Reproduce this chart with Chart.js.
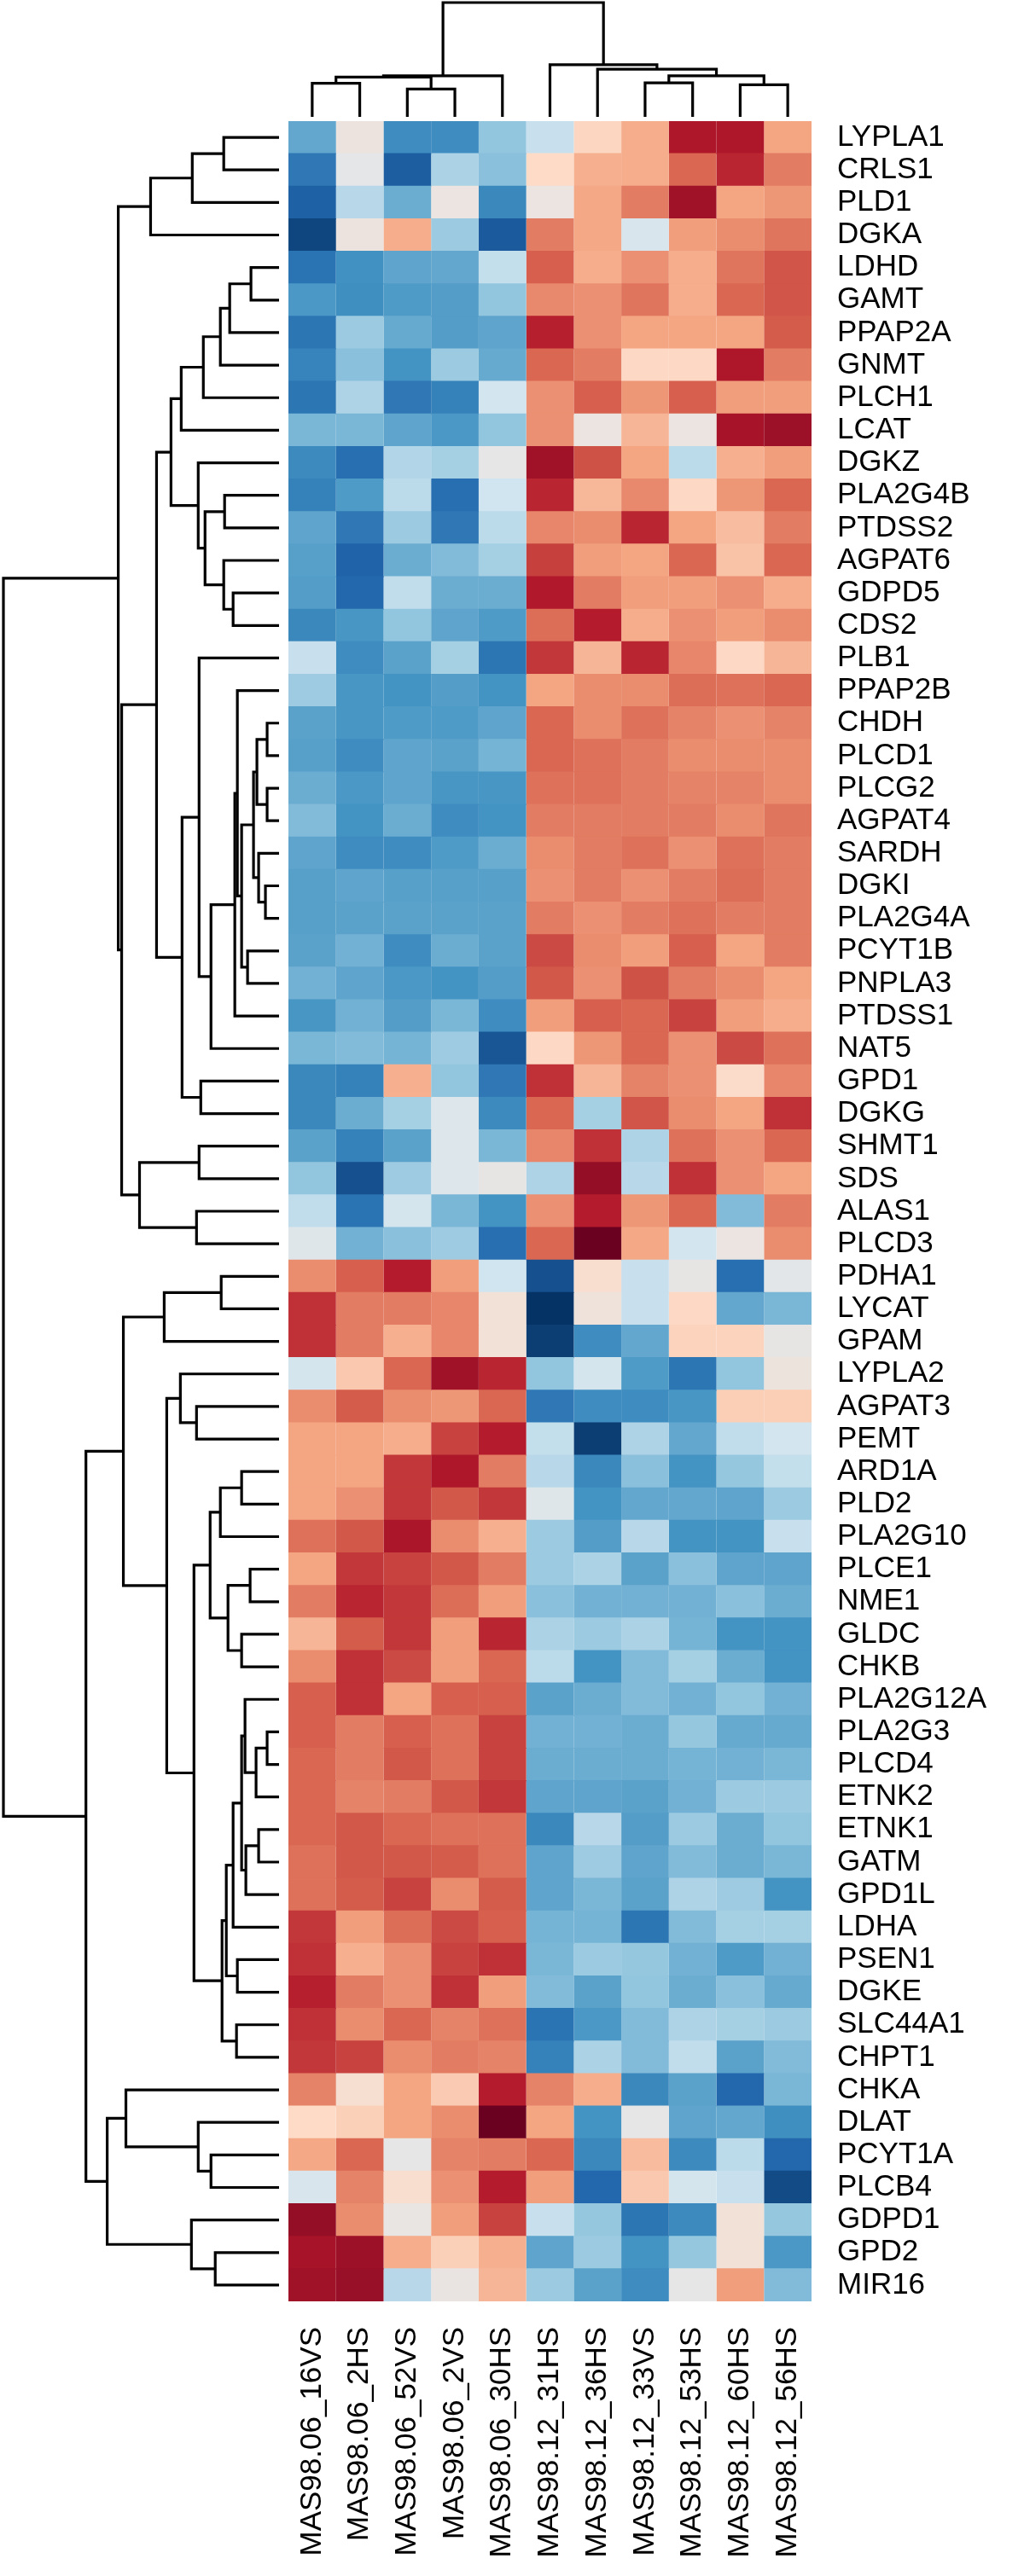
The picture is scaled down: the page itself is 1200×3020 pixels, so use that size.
<!DOCTYPE html>
<html>
<head>
<meta charset="utf-8">
<script src="https://cdn.jsdelivr.net/npm/chart.js@4/dist/chart.umd.min.js"></script>
<style>
  body { margin: 0; background: #fff; width: 1200px; height: 3020px; position: relative; overflow: hidden; }
  canvas { position: absolute; }
</style>
</head>
<body>
<canvas id="colTree" width="613" height="142" style="left:338px;top:0px"></canvas>
<canvas id="rowTree" width="338" height="2556" style="left:0px;top:142px"></canvas>
<canvas id="heat" width="862" height="2878" style="left:338px;top:142px"></canvas>
<script>
const samples = ["MAS98.06_16VS", "MAS98.06_2HS", "MAS98.06_52VS", "MAS98.06_2VS", "MAS98.06_30HS",
    "MAS98.12_31HS", "MAS98.12_36HS", "MAS98.12_33VS", "MAS98.12_53HS", "MAS98.12_60HS", "MAS98.12_56HS"];

const genes = ["LYPLA1", "CRLS1", "PLD1", "DGKA", "LDHD", "GAMT", "PPAP2A", "GNMT", "PLCH1", "LCAT",
    "DGKZ", "PLA2G4B", "PTDSS2", "AGPAT6", "GDPD5", "CDS2", "PLB1", "PPAP2B", "CHDH", "PLCD1",
    "PLCG2", "AGPAT4", "SARDH", "DGKI", "PLA2G4A", "PCYT1B", "PNPLA3", "PTDSS1", "NAT5", "GPD1",
    "DGKG", "SHMT1", "SDS", "ALAS1", "PLCD3", "PDHA1", "LYCAT", "GPAM", "LYPLA2", "AGPAT3",
    "PEMT", "ARD1A", "PLD2", "PLA2G10", "PLCE1", "NME1", "GLDC", "CHKB", "PLA2G12A", "PLA2G3",
    "PLCD4", "ETNK2", "ETNK1", "GATM", "GPD1L", "LDHA", "PSEN1", "DGKE", "SLC44A1", "CHPT1",
    "CHKA", "DLAT", "PCYT1A", "PLCB4", "GDPD1", "GPD2", "MIR16"];

// scaled expression, one row per gene, one value per sample (-1 .. 1)
const expression = [
    [-0.52, 0.05, -0.63, -0.63, -0.40, -0.23, 0.22, 0.37, 0.81, 0.81, 0.40],
    [-0.72, -0.02, -0.83, -0.32, -0.42, 0.20, 0.36, 0.37, 0.58, 0.76, 0.52],
    [-0.82, -0.28, -0.50, 0.04, -0.65, 0.04, 0.39, 0.52, 0.85, 0.40, 0.44],
    [-0.92, 0.05, 0.37, -0.37, -0.84, 0.52, 0.39, -0.12, 0.42, 0.47, 0.54],
    [-0.74, -0.61, -0.53, -0.52, -0.24, 0.60, 0.37, 0.46, 0.37, 0.54, 0.63],
    [-0.58, -0.62, -0.57, -0.56, -0.40, 0.48, 0.46, 0.54, 0.37, 0.58, 0.63],
    [-0.73, -0.37, -0.51, -0.56, -0.53, 0.78, 0.46, 0.40, 0.40, 0.40, 0.61],
    [-0.67, -0.42, -0.60, -0.37, -0.51, 0.58, 0.52, 0.21, 0.21, 0.81, 0.52],
    [-0.73, -0.31, -0.72, -0.68, -0.18, 0.46, 0.60, 0.44, 0.60, 0.42, 0.42],
    [-0.46, -0.46, -0.53, -0.58, -0.40, 0.46, 0.04, 0.34, 0.04, 0.83, 0.86],
    [-0.64, -0.76, -0.30, -0.34, 0.00, 0.85, 0.64, 0.40, -0.27, 0.36, 0.42],
    [-0.68, -0.57, -0.27, -0.76, -0.20, 0.76, 0.33, 0.48, 0.21, 0.44, 0.58],
    [-0.53, -0.72, -0.37, -0.72, -0.27, 0.49, 0.47, 0.76, 0.40, 0.31, 0.52],
    [-0.55, -0.81, -0.50, -0.44, -0.34, 0.69, 0.42, 0.40, 0.58, 0.29, 0.58],
    [-0.56, -0.79, -0.25, -0.50, -0.50, 0.80, 0.52, 0.42, 0.42, 0.46, 0.37],
    [-0.65, -0.59, -0.40, -0.53, -0.57, 0.56, 0.79, 0.37, 0.46, 0.42, 0.47],
    [-0.23, -0.63, -0.54, -0.34, -0.73, 0.71, 0.34, 0.76, 0.49, 0.21, 0.34],
    [-0.36, -0.59, -0.60, -0.56, -0.60, 0.40, 0.47, 0.47, 0.56, 0.55, 0.58],
    [-0.54, -0.59, -0.57, -0.57, -0.53, 0.58, 0.47, 0.55, 0.50, 0.46, 0.50],
    [-0.55, -0.63, -0.53, -0.54, -0.47, 0.58, 0.55, 0.52, 0.47, 0.47, 0.47],
    [-0.50, -0.58, -0.53, -0.59, -0.59, 0.55, 0.55, 0.52, 0.50, 0.50, 0.47],
    [-0.44, -0.60, -0.50, -0.63, -0.60, 0.52, 0.52, 0.52, 0.52, 0.47, 0.54],
    [-0.53, -0.63, -0.63, -0.57, -0.50, 0.47, 0.52, 0.55, 0.46, 0.55, 0.52],
    [-0.55, -0.53, -0.55, -0.55, -0.55, 0.46, 0.52, 0.46, 0.52, 0.56, 0.52],
    [-0.55, -0.54, -0.54, -0.54, -0.54, 0.52, 0.46, 0.52, 0.55, 0.52, 0.52],
    [-0.54, -0.48, -0.63, -0.50, -0.54, 0.66, 0.47, 0.42, 0.60, 0.40, 0.52],
    [-0.48, -0.53, -0.58, -0.60, -0.56, 0.62, 0.46, 0.64, 0.52, 0.47, 0.40],
    [-0.59, -0.48, -0.56, -0.46, -0.63, 0.42, 0.60, 0.58, 0.68, 0.42, 0.37],
    [-0.46, -0.44, -0.47, -0.36, -0.86, 0.21, 0.44, 0.58, 0.46, 0.66, 0.55],
    [-0.65, -0.68, 0.36, -0.40, -0.72, 0.73, 0.34, 0.50, 0.46, 0.18, 0.49],
    [-0.65, -0.50, -0.34, -0.10, -0.64, 0.58, -0.34, 0.63, 0.47, 0.40, 0.73],
    [-0.54, -0.68, -0.54, -0.10, -0.46, 0.49, 0.73, -0.31, 0.55, 0.46, 0.58],
    [-0.40, -0.88, -0.36, -0.10, 0.01, -0.31, 0.88, -0.28, 0.73, 0.46, 0.40],
    [-0.25, -0.74, -0.16, -0.46, -0.60, 0.46, 0.79, 0.44, 0.58, -0.44, 0.52],
    [-0.07, -0.48, -0.42, -0.36, -0.76, 0.58, 0.99, 0.39, -0.18, 0.04, 0.47],
    [0.47, 0.60, 0.79, 0.42, -0.20, -0.88, 0.15, -0.23, 0.01, -0.76, -0.03],
    [0.73, 0.52, 0.52, 0.49, 0.10, -0.99, 0.08, -0.23, 0.21, -0.52, -0.46],
    [0.73, 0.52, 0.36, 0.49, 0.10, -0.95, -0.63, -0.52, 0.23, 0.23, 0.01],
    [-0.16, 0.27, 0.58, 0.85, 0.76, -0.40, -0.16, -0.57, -0.73, -0.40, 0.06],
    [0.47, 0.61, 0.47, 0.44, 0.58, -0.72, -0.63, -0.63, -0.59, 0.25, 0.25],
    [0.40, 0.40, 0.37, 0.68, 0.79, -0.24, -0.95, -0.31, -0.52, -0.25, -0.18],
    [0.40, 0.40, 0.71, 0.81, 0.52, -0.28, -0.65, -0.42, -0.60, -0.39, -0.24],
    [0.40, 0.46, 0.71, 0.62, 0.71, -0.07, -0.60, -0.52, -0.52, -0.53, -0.37],
    [0.55, 0.62, 0.82, 0.47, 0.36, -0.37, -0.56, -0.28, -0.60, -0.60, -0.23],
    [0.40, 0.71, 0.68, 0.62, 0.52, -0.37, -0.32, -0.54, -0.42, -0.53, -0.53],
    [0.52, 0.76, 0.71, 0.56, 0.42, -0.42, -0.48, -0.48, -0.48, -0.42, -0.50],
    [0.34, 0.61, 0.71, 0.42, 0.76, -0.32, -0.37, -0.32, -0.47, -0.60, -0.60],
    [0.47, 0.73, 0.66, 0.42, 0.58, -0.27, -0.60, -0.44, -0.34, -0.50, -0.60],
    [0.60, 0.73, 0.40, 0.60, 0.60, -0.54, -0.50, -0.44, -0.48, -0.40, -0.48],
    [0.60, 0.52, 0.60, 0.55, 0.68, -0.48, -0.48, -0.50, -0.39, -0.51, -0.51],
    [0.58, 0.52, 0.62, 0.55, 0.68, -0.50, -0.50, -0.50, -0.47, -0.48, -0.46],
    [0.58, 0.50, 0.52, 0.62, 0.71, -0.53, -0.53, -0.54, -0.48, -0.37, -0.37],
    [0.58, 0.62, 0.58, 0.55, 0.55, -0.65, -0.28, -0.56, -0.37, -0.50, -0.40],
    [0.55, 0.62, 0.62, 0.61, 0.55, -0.53, -0.36, -0.53, -0.44, -0.50, -0.46],
    [0.55, 0.61, 0.68, 0.47, 0.61, -0.53, -0.46, -0.54, -0.31, -0.36, -0.60],
    [0.71, 0.42, 0.56, 0.66, 0.60, -0.47, -0.47, -0.73, -0.44, -0.34, -0.34],
    [0.73, 0.36, 0.46, 0.68, 0.73, -0.46, -0.37, -0.39, -0.48, -0.57, -0.48],
    [0.78, 0.52, 0.46, 0.73, 0.42, -0.44, -0.54, -0.40, -0.50, -0.42, -0.51],
    [0.73, 0.47, 0.58, 0.50, 0.55, -0.74, -0.58, -0.44, -0.31, -0.34, -0.37],
    [0.71, 0.68, 0.47, 0.52, 0.50, -0.68, -0.32, -0.44, -0.25, -0.54, -0.44],
    [0.50, 0.14, 0.40, 0.26, 0.79, 0.50, 0.37, -0.65, -0.54, -0.79, -0.46],
    [0.20, 0.24, 0.40, 0.47, 0.99, 0.40, -0.60, 0.00, -0.53, -0.52, -0.62],
    [0.39, 0.58, 0.00, 0.50, 0.52, 0.58, -0.65, 0.32, -0.64, -0.27, -0.79],
    [-0.12, 0.50, 0.15, 0.46, 0.79, 0.42, -0.79, 0.27, -0.16, -0.23, -0.90],
    [0.88, 0.47, 0.02, 0.42, 0.68, -0.23, -0.39, -0.73, -0.64, 0.10, -0.39],
    [0.83, 0.86, 0.37, 0.24, 0.36, -0.53, -0.37, -0.60, -0.39, 0.10, -0.58],
    [0.85, 0.87, -0.28, 0.03, 0.34, -0.37, -0.54, -0.63, 0.00, 0.42, -0.44]
];

// linkage: leaves are 0..n-1, merge k gets id n+k
const colMerges = [[0, 1], [2, 3], [11, 12], [13, 4], [7, 8], [9, 10], [15, 16], [6, 17], [5, 18], [14, 19]];
const colHeights = [39.4, 32.7, 46.7, 48.3, 40, 37.7, 48.3, 56, 61.3, 134.3];

const rowMerges = [
    [0, 1], [67, 2], [68, 3], [4, 5], [70, 6], [71, 7], [72, 8], [73, 9], [11, 12], [14, 15],
    [13, 76], [75, 77], [10, 78], [74, 79], [18, 19], [20, 21], [81, 82], [23, 24], [22, 84], [83, 85],
    [25, 26], [86, 87], [17, 88], [89, 27], [90, 28], [16, 91], [29, 30], [92, 93], [80, 94], [31, 32],
    [33, 34], [96, 97], [95, 98], [69, 99], [35, 36], [101, 37], [39, 40], [38, 103], [41, 42], [105, 43],
    [44, 45], [46, 47], [107, 108], [106, 109], [49, 50], [111, 51], [48, 112], [52, 53], [114, 54], [113, 115],
    [116, 55], [56, 57], [117, 118], [58, 59], [119, 120], [110, 121], [104, 122], [102, 123], [62, 63], [61, 125],
    [60, 126], [65, 66], [64, 128], [127, 129], [124, 130], [100, 131]
];
const rowHeights = [
    65, 102, 151, 33, 58, 69, 89, 115, 64, 54,
    65, 87, 95, 127, 14, 14, 26, 16, 24, 30,
    37, 44, 49, 52, 80, 94, 92, 114, 144, 94,
    97, 164, 185, 189, 68, 135, 97, 116, 44, 69,
    34, 44, 60, 81, 14, 27, 40, 24, 39, 44,
    54, 49, 62, 50, 67, 100, 132, 183, 80, 95,
    180, 75, 103, 202, 227, 324
];

const palette = ["#053061", "#2166ac", "#4393c3", "#92c5de", "#d1e5f0", "#e6e6e6",
    "#fddbc7", "#f4a582", "#d6604d", "#b2182b", "#67001f"];

function hexToRgb(h) {
    return [parseInt(h.slice(1, 3), 16), parseInt(h.slice(3, 5), 16), parseInt(h.slice(5, 7), 16)];
}

function cellColor(v) {
    let t = (Math.max(-1, Math.min(1, v)) + 1) / 2 * (palette.length - 1);
    let i = Math.min(palette.length - 2, Math.floor(t));
    let f = t - i;
    let a = hexToRgb(palette[i]), b = hexToRgb(palette[i + 1]);
    let c = a.map((x, k) => Math.round(x + (b[k] - x) * f));
    return `rgb(${c[0]},${c[1]},${c[2]})`;
}

// build the U shaped links of a dendrogram, in (position, height) pairs
function dendroLinks(n, merges, heights) {
    let pos = [], hgt = [];
    for (let i = 0; i < n; i++) { pos.push(i); hgt.push(0); }
    return merges.map(([a, b], k) => {
        let h = heights[k];
        pos.push((pos[a] + pos[b]) / 2);
        hgt.push(h);
        return [[pos[a], hgt[a]], [pos[a], h], [pos[b], h], [pos[b], hgt[b]]];
    });
}

function linkDataset(points) {
    return {
        data: points,
        showLine: true,
        borderColor: "#000",
        borderWidth: 3.2,
        borderJoinStyle: "miter",
        pointRadius: 0,
        tension: 0,
        clip: false
    };
}

const baseOpts = {
    responsive: false,
    animation: false,
    events: [],
    plugins: { legend: { display: false }, tooltip: { enabled: false } }
};

// column dendrogram on top
new Chart(document.getElementById("colTree"), {
    type: "scatter",
    data: {
        datasets: dendroLinks(samples.length, colMerges, colHeights)
            .map(l => linkDataset(l.map(p => ({ x: p[0], y: p[1] }))))
    },
    options: {
        ...baseOpts,
        layout: { padding: { top: 3, bottom: 5, left: 0, right: 0 } },
        scales: {
            x: { type: "linear", display: false, min: -0.5, max: samples.length - 0.5 },
            y: { type: "linear", display: false, min: 0, max: Math.max(...colHeights) }
        }
    }
});

// row dendrogram on the left
new Chart(document.getElementById("rowTree"), {
    type: "scatter",
    data: {
        datasets: dendroLinks(genes.length, rowMerges, rowHeights)
            .map(l => linkDataset(l.map(p => ({ x: p[1], y: p[0] }))))
    },
    options: {
        ...baseOpts,
        layout: { padding: { top: 0, bottom: 0, left: 4, right: 11 } },
        scales: {
            x: { type: "linear", display: false, reverse: true, min: 0, max: Math.max(...rowHeights) },
            y: { type: "linear", display: false, reverse: true, min: -0.5, max: genes.length - 0.5 }
        }
    }
});

// heatmap as floating horizontal bars, one dataset per sample column
const labelFont = { family: "'Liberation Sans', Arial, sans-serif", size: 35 };

new Chart(document.getElementById("heat"), {
    type: "bar",
    data: {
        labels: genes,
        datasets: samples.map((s, j) => ({
            label: s,
            data: genes.map(() => [j, j + 1]),
            backgroundColor: genes.map((g, i) => cellColor(expression[i][j])),
            borderWidth: 0,
            barPercentage: 1.03,
            categoryPercentage: 1,
            grouped: false
        }))
    },
    options: {
        ...baseOpts,
        indexAxis: "y",
        layout: { padding: 0 },
        scales: {
            x: {
                type: "linear",
                position: "bottom",
                min: 0,
                max: samples.length,
                grid: { display: false, drawTicks: false },
                border: { display: false },
                afterBuildTicks: axis => { axis.ticks = samples.map((s, j) => ({ value: j + 0.5 })); },
                afterFit: axis => { axis.height = 322; axis.paddingLeft = 0; axis.paddingRight = 0; },
                ticks: {
                    autoSkip: false,
                    minRotation: 90,
                    maxRotation: 90,
                    padding: 30,
                    color: "#000",
                    font: labelFont,
                    callback: v => samples[Math.floor(v)]
                }
            },
            y: {
                type: "category",
                position: "right",
                grid: { display: false, drawTicks: false },
                border: { display: false },
                afterFit: axis => { axis.width = 249; axis.paddingTop = 0; axis.paddingBottom = 0; },
                ticks: { autoSkip: false, padding: 30, color: "#000", font: labelFont }
            }
        }
    }
});
</script>
</body>
</html>
